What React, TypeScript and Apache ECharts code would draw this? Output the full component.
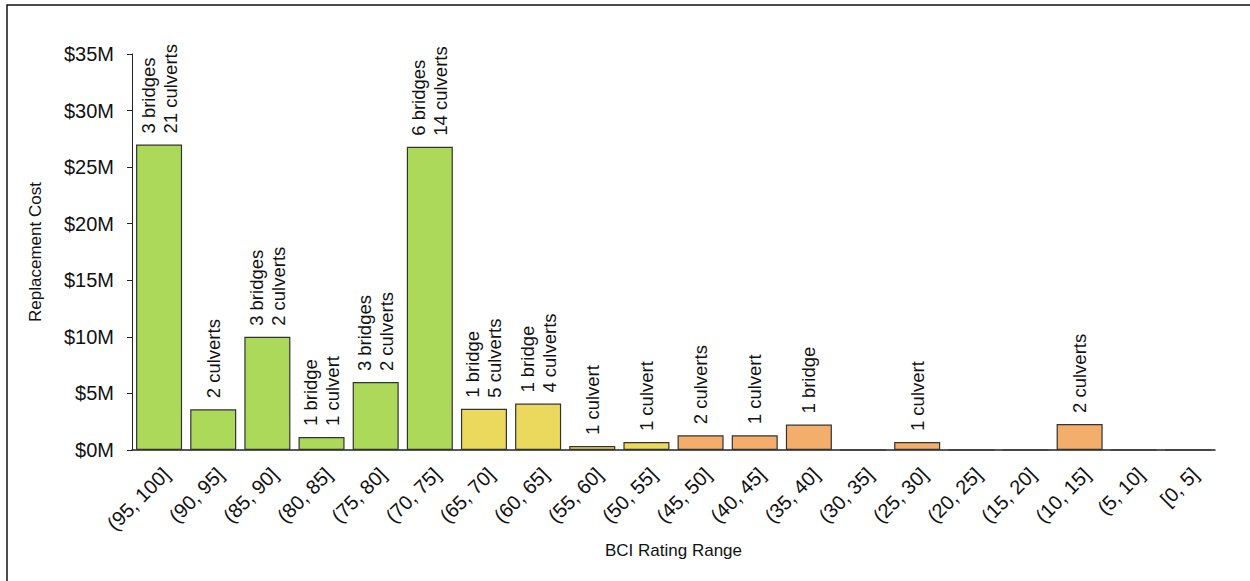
import React, { useEffect, useRef } from "react";
import * as echarts from "echarts";

const categories = [
  "(95, 100]", "(90, 95]", "(85, 90]", "(80, 85]", "(75, 80]", "(70, 75]", "(65, 70]",
  "(60, 65]", "(55, 60]", "(50, 55]", "(45, 50]", "(40, 45]", "(35, 40]", "(30, 35]",
  "(25, 30]", "(20, 25]", "(15, 20]", "(10, 15]", "(5, 10]", "[0, 5]",
];
// Replacement cost in $M
const costs = [27, 3.6, 10, 1.15, 6, 26.8, 3.65, 4.1, 0.35, 0.7, 1.3, 1.3, 2.25, 0, 0.7, 0, 0, 2.3, 0, 0];
const counts = [
  "3 bridges\n21 culverts", "2 culverts", "3 bridges\n2 culverts", "1 bridge\n1 culvert",
  "3 bridges\n2 culverts", "6 bridges\n14 culverts", "1 bridge\n5 culverts", "1 bridge\n4 culverts",
  "1 culvert", "1 culvert", "2 culverts", "1 culvert", "1 bridge", "", "1 culvert", "", "",
  "2 culverts", "", "",
];
const colorGroups = [
  "g", "g", "g", "g", "g", "g", "y", "y", "y", "y", "o", "o", "o", "o", "o", "o", "o", "o", "o", "o",
];
const palette: Record<string, string> = { g: "#add95b", y: "#ebd95d", o: "#f4ae6b" };
const yTicks = { min: 0, max: 35, interval: 5 };

const FONT = "'Liberation Sans', Arial, sans-serif";
const INK = "#111";

export default function App() {
  const ref = useRef<HTMLDivElement>(null);
  useEffect(() => {
    if (!ref.current) return;
    const chart = echarts.init(ref.current, null, { renderer: "svg" });
    chart.setOption({
      animation: false,
      textStyle: { fontFamily: FONT },
      graphic: [
        {
          type: "rect",
          shape: { x: 7, y: 5, width: 1300, height: 700 },
          style: { fill: "none", stroke: "#111", lineWidth: 1.5 },
          silent: true,
        },
      ],
      grid: { left: 132, right: 35, top: 54, bottom: 131, containLabel: false },
      xAxis: {
        type: "category",
        data: categories,
        name: "BCI Rating Range",
        nameLocation: "middle",
        nameGap: 92,
        nameTextStyle: { fontSize: 17, color: INK, fontFamily: FONT },
        axisLine: { lineStyle: { color: "#222", width: 1.5 } },
        axisTick: { show: false },
        axisLabel: {
          rotate: 45,
          interval: 0,
          fontSize: 20,
          color: INK,
          margin: 14,
          verticalAlign: "top",
          fontFamily: FONT,
        },
      },
      yAxis: {
        type: "value",
        min: yTicks.min,
        max: yTicks.max,
        interval: yTicks.interval,
        name: "Replacement Cost",
        nameLocation: "middle",
        nameGap: 88,
        nameTextStyle: { fontSize: 17, color: INK, fontFamily: FONT },
        axisLine: { show: true, lineStyle: { color: "#222", width: 1 } },
        axisTick: { show: true, length: 5, lineStyle: { color: "#222" } },
        splitLine: { show: false },
        axisLabel: {
          fontSize: 20,
          color: INK,
          margin: 18,
          fontFamily: FONT,
          formatter: (v: number) => `$${v}M`,
        },
      },
      series: [
        {
          type: "bar",
          barWidth: "85%",
          data: costs.map((v, i) => ({
            value: v,
            itemStyle: { color: palette[colorGroups[i]], borderColor: "#333", borderWidth: 1.2 },
            label: {
              show: counts[i] !== "",
              formatter: counts[i],
            },
          })),
          label: {
            position: "top",
            rotate: 90,
            align: "left",
            verticalAlign: "middle",
            distance: 11,
            fontSize: 18.5,
            lineHeight: 22,
            color: INK,
            fontFamily: FONT,
          },
        },
      ],
    });
    return () => chart.dispose();
  }, []);
  return <div ref={ref} style={{ width: 1250, height: 581, position: "absolute", left: 0, top: 0 }} />;
}
